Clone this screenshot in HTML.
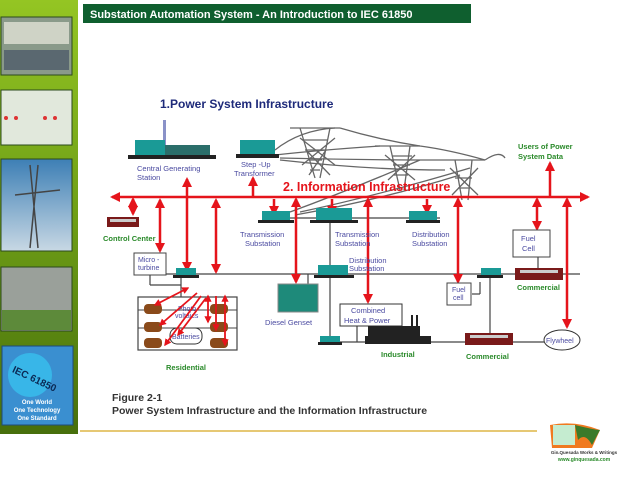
<!DOCTYPE html>
<html><head><meta charset="utf-8"><style>
html,body{margin:0;padding:0;width:638px;height:478px;overflow:hidden;background:#fff;font-family:"Liberation Sans",sans-serif}
</style></head><body>
<svg width="638" height="478" viewBox="0 0 638 478" xmlns="http://www.w3.org/2000/svg" font-family="Liberation Sans, sans-serif">
<defs>
<linearGradient id="sb" x1="0" y1="0" x2="0" y2="1"><stop offset="0" stop-color="#94c523"/><stop offset="0.5" stop-color="#6e9e16"/><stop offset="1" stop-color="#476f0c"/></linearGradient>
<linearGradient id="sky" x1="0" y1="0" x2="0" y2="1"><stop offset="0" stop-color="#3d7fb5"/><stop offset="1" stop-color="#c8d8e4"/></linearGradient>
<marker id="ar" viewBox="0 0 10 10" refX="8" refY="5" markerWidth="4" markerHeight="4" orient="auto-start-reverse"><path d="M0,0L10,5L0,10z" fill="#e5141b"/></marker>
</defs>
<!-- sidebar -->
<rect x="0" y="0" width="78" height="434" fill="url(#sb)"/>
<rect x="1" y="17" width="71" height="58" fill="#8a9a8a" stroke="#2c4a1c"/>
<rect x="4" y="22" width="65" height="22" fill="#cfd3c6"/><rect x="4" y="50" width="65" height="20" fill="#5a6870"/>
<rect x="1" y="90" width="71" height="55" fill="#e1e8dc" stroke="#2c4a1c"/>
<circle cx="6" cy="118" r="2" fill="#d33"/><circle cx="16" cy="118" r="2" fill="#d33"/><circle cx="45" cy="118" r="2" fill="#d33"/><circle cx="55" cy="118" r="2" fill="#d33"/>
<rect x="1" y="159" width="71" height="92" fill="url(#sky)" stroke="#2c4a1c"/>
<path d="M30,165L38,248M38,165L30,248M15,195L60,190" stroke="#444" stroke-width="1.5"/>
<rect x="1" y="267" width="71" height="64" fill="#9aa09a" stroke="#2c4a1c"/>
<rect x="2" y="310" width="69" height="20" fill="#5d8a3a"/>
<rect x="2" y="346" width="71" height="79" fill="#3a8fd0" stroke="#1e4a7a"/>
<circle cx="30" cy="375" r="22" fill="#38b6e8"/>
<text x="12" y="380" font-size="10" font-weight="bold" fill="#0b2a55" transform="rotate(25 30 375)">IEC 61850</text>
<text x="37" y="404" font-size="6" fill="#fff" text-anchor="middle" font-weight="bold">One World</text>
<text x="37" y="412" font-size="6" fill="#fff" text-anchor="middle" font-weight="bold">One Technology</text>
<text x="37" y="420" font-size="6" fill="#fff" text-anchor="middle" font-weight="bold">One Standard</text>
<!-- title bar -->
<rect x="83" y="4" width="388" height="19" fill="#0f5f2f"/>
<text x="90" y="18" font-size="11" font-weight="bold" fill="#fff">Substation Automation System - An Introduction to IEC 61850</text>
<!-- bottom line -->
<line x1="80" y1="431" x2="537" y2="431" stroke="#d8a820" stroke-width="1.2"/>
<!-- logo -->
<path d="M550,425 Q575,420 600,430 L592,448 L552,448 Z" fill="#f07a20"/>
<rect x="553" y="425" width="22" height="20" fill="#c5ecd0"/>
<path d="M575,425 Q595,430 600,430 L592,445 Q585,432 578,440Z" fill="#3b7a2a"/>
<text x="584" y="454" font-size="4.5" fill="#333" text-anchor="middle" font-weight="bold">Gin.Quesada Works &amp; Writings</text>
<text x="584" y="461" font-size="5" fill="#2a8a2a" text-anchor="middle" font-weight="bold">www.ginquesada.com</text>
<!-- diagram -->
<text x="160" y="108" font-size="12" font-weight="bold" fill="#1e2a7a">1.Power System Infrastructure</text>
<!-- towers -->
<g stroke="#666" stroke-width="1.3" fill="none">
<path d="M290,128L340,128M300,128L315,178M330,128L320,178M305,150L325,150M300,138L335,165M335,138L302,165M303,140L328,140M308,160L322,160M310,170L320,170M306,150L330,175M326,150L309,175"/>
<path d="M375,146L420,146M390,146L400,190M410,146L404,190M393,165L410,165M385,155L415,180M415,155L388,180M394,175L408,175M392,156L412,156"/>
<path d="M440,160L485,160M455,160L462,200M472,160L468,200M455,178L472,178M450,168L478,195M478,168L452,195M458,188L470,188"/>
<path d="M275,150Q300,130 335,128M275,155Q320,150 380,146M280,158Q360,160 440,160M280,160Q370,170 445,170M340,128Q380,140 420,146M420,146Q450,150 485,160M485,160Q500,150 505,158M295,215Q380,200 460,175M290,212Q350,190 420,160M300,212Q380,195 470,168"/>
</g>
<!-- central generating -->
<rect x="163" y="120" width="3" height="25" fill="#8a92c8"/>
<rect x="135" y="140" width="30" height="15" fill="#1a9a96"/><rect x="165" y="145" width="45" height="10" fill="#2b6e6a"/>
<rect x="128" y="155" width="88" height="4" fill="#222"/>
<rect x="240" y="140" width="35" height="14" fill="#1a9a96"/><rect x="236" y="154" width="43" height="4" fill="#222"/>
<text x="137" y="171" font-size="7.5" fill="#4a4aa0">Central Generating</text><text x="137" y="180" font-size="7.5" fill="#4a4aa0">Station</text>
<text x="241" y="167" font-size="7.5" fill="#4a4aa0">Step -Up</text><text x="234" y="176" font-size="7.5" fill="#4a4aa0">Transformer</text>
<text x="518" y="149" font-size="7.5" font-weight="bold" fill="#2a8a2a">Users of Power</text><text x="518" y="159" font-size="7.5" font-weight="bold" fill="#2a8a2a">System Data</text>
<!-- gray lines -->
<g stroke="#444" stroke-width="1.2" fill="none">
<line x1="270" y1="218" x2="440" y2="218"/>
<line x1="140" y1="274" x2="580" y2="274"/>
<line x1="320" y1="342" x2="545" y2="342"/>
<line x1="330" y1="218" x2="330" y2="342"/>
<line x1="181" y1="274" x2="181" y2="297"/>
<line x1="150" y1="275" x2="150" y2="285"/><line x1="150" y1="285" x2="181" y2="285"/>
<line x1="308" y1="274" x2="308" y2="295"/>
<line x1="490" y1="274" x2="490" y2="342"/>
<line x1="480" y1="282" x2="480" y2="294"/><line x1="472" y1="294" x2="480" y2="294"/>
<line x1="538" y1="257" x2="538" y2="270"/>
<line x1="357" y1="326" x2="357" y2="342"/>
</g>
<!-- residential box (behind arrows) -->
<rect x="138" y="297" width="99" height="53" fill="#fff" stroke="#444" stroke-width="1.2"/>
<g stroke="#444" stroke-width="1"><line x1="138" y1="310" x2="237" y2="310"/><line x1="138" y1="328" x2="237" y2="328"/></g>
<g fill="#8a4a1a"><rect x="144" y="304" width="18" height="10" rx="4"/><rect x="144" y="322" width="18" height="10" rx="4"/><rect x="144" y="338" width="18" height="10" rx="4"/><rect x="210" y="304" width="18" height="10" rx="4"/><rect x="210" y="322" width="18" height="10" rx="4"/><rect x="210" y="338" width="18" height="10" rx="4"/></g>
<text x="178" y="311" font-size="7" fill="#4a4aa0">Photo</text><text x="175" y="318" font-size="7" fill="#4a4aa0">voltaics</text>
<rect x="170" y="328" width="32" height="16" rx="7" fill="#fff" stroke="#333"/>
<text x="172" y="339" font-size="7" fill="#4a4aa0">Batteries</text>
<text x="166" y="370" font-size="7.5" font-weight="bold" fill="#2a8a2a">Residential</text>
<!-- red bus -->
<g stroke="#e5141b" stroke-width="2.5" fill="none">
<line x1="112" y1="197" x2="588" y2="197" marker-start="url(#ar)" marker-end="url(#ar)"/>
<line x1="133" y1="199" x2="133" y2="214" marker-end="url(#ar)" marker-start="url(#ar)"/>
<line x1="160" y1="200" x2="160" y2="251" marker-end="url(#ar)" marker-start="url(#ar)"/>
<line x1="187" y1="179" x2="187" y2="270" marker-start="url(#ar)" marker-end="url(#ar)"/>
<line x1="216" y1="200" x2="216" y2="272" marker-start="url(#ar)" marker-end="url(#ar)"/>
<line x1="253" y1="178" x2="253" y2="197" marker-start="url(#ar)"/>
<line x1="274" y1="199" x2="274" y2="214" marker-end="url(#ar)"/>
<line x1="296" y1="199" x2="296" y2="282" marker-end="url(#ar)" marker-start="url(#ar)"/>
<line x1="332" y1="199" x2="332" y2="214" marker-end="url(#ar)"/>
<line x1="368" y1="199" x2="368" y2="302" marker-end="url(#ar)" marker-start="url(#ar)"/>
<line x1="427" y1="199" x2="427" y2="213" marker-end="url(#ar)"/>
<line x1="458" y1="199" x2="458" y2="282" marker-end="url(#ar)" marker-start="url(#ar)"/>
<line x1="537" y1="199" x2="537" y2="229" marker-end="url(#ar)" marker-start="url(#ar)"/>
<line x1="550" y1="163" x2="550" y2="196" marker-start="url(#ar)"/>
<line x1="567" y1="199" x2="567" y2="327" marker-end="url(#ar)" marker-start="url(#ar)"/>
<line x1="188" y1="288" x2="155" y2="305" marker-end="url(#ar)" marker-start="url(#ar)" stroke-width="1.8"/>
<line x1="197" y1="293" x2="160" y2="325" marker-end="url(#ar)" stroke-width="1.8"/>
<line x1="201" y1="296" x2="165" y2="345" marker-end="url(#ar)" stroke-width="1.8"/>
<line x1="206" y1="298" x2="178" y2="335" marker-end="url(#ar)" stroke-width="1.8"/>
<line x1="208" y1="296" x2="208" y2="322" marker-end="url(#ar)" marker-start="url(#ar)" stroke-width="1.8"/>
<line x1="216" y1="296" x2="216" y2="330" marker-end="url(#ar)" stroke-width="1.8"/>
<line x1="225" y1="296" x2="225" y2="345" marker-end="url(#ar)" marker-start="url(#ar)" stroke-width="1.8"/>
</g>
<text x="283" y="191" font-size="12.5" font-weight="bold" fill="#e5141b">2. Information Infrastructure</text>
<!-- control center -->
<rect x="107" y="217" width="32" height="10" fill="#7a1a1a"/><rect x="110" y="219" width="26" height="3" fill="#ccc"/>
<text x="103" y="241" font-size="7.5" font-weight="bold" fill="#2a8a2a">Control Center</text>
<!-- substations -->
<rect x="262" y="211" width="28" height="9" fill="#1a9a96"/><rect x="258" y="220" width="36" height="3" fill="#222"/>
<text x="240" y="237" font-size="7.5" fill="#4a4aa0">Transmission</text><text x="245" y="246" font-size="7.5" fill="#4a4aa0">Substation</text>
<rect x="316" y="208" width="36" height="12" fill="#1a9a96"/><rect x="310" y="220" width="48" height="3" fill="#222"/>
<text x="335" y="237" font-size="7.5" fill="#4a4aa0">Transmission</text><text x="335" y="246" font-size="7.5" fill="#4a4aa0">Substation</text>
<rect x="409" y="211" width="28" height="9" fill="#1a9a96"/><rect x="406" y="220" width="34" height="3" fill="#222"/>
<text x="412" y="237" font-size="7.5" fill="#4a4aa0">Distribution</text><text x="412" y="246" font-size="7.5" fill="#4a4aa0">Substation</text>
<text x="349" y="263" font-size="7.5" fill="#4a4aa0">Distribution</text><text x="349" y="271" font-size="7.5" fill="#4a4aa0">Substation</text>
<rect x="318" y="265" width="30" height="10" fill="#1a9a96"/><rect x="314" y="275" width="40" height="3" fill="#222"/>
<!-- micro turbine -->
<rect x="134" y="253" width="32" height="22" fill="#fff" stroke="#444"/>
<text x="138" y="262" font-size="7" fill="#4a4aa0">Micro -</text><text x="138" y="270" font-size="7" fill="#4a4aa0">turbine</text>
<rect x="176" y="268" width="20" height="7" fill="#1a9a96"/><rect x="173" y="275" width="26" height="3" fill="#222"/>
<!-- diesel -->
<rect x="278" y="284" width="40" height="28" fill="#1e8a7a" stroke="#888"/>
<text x="265" y="325" font-size="7.5" fill="#4a4aa0">Diesel Genset</text>
<!-- CHP & industrial -->
<rect x="340" y="304" width="62" height="22" fill="#fff" stroke="#333"/>
<text x="351" y="313" font-size="7.5" fill="#4a4aa0">Combined</text><text x="344" y="323" font-size="7.5" fill="#4a4aa0">Heat &amp; Power</text>
<rect x="411" y="315" width="2" height="12" fill="#222"/><rect x="416" y="315" width="2" height="12" fill="#222"/>
<rect x="368" y="326" width="52" height="10" fill="#222"/><rect x="365" y="336" width="66" height="8" fill="#222"/>
<rect x="320" y="336" width="20" height="6" fill="#1a9a96"/><rect x="318" y="342" width="24" height="3" fill="#222"/>
<text x="381" y="357" font-size="7.5" font-weight="bold" fill="#2a8a2a">Industrial</text>
<!-- fuel cells & commercial -->
<rect x="447" y="283" width="24" height="22" fill="#fff" stroke="#444"/>
<text x="452" y="292" font-size="7" fill="#4a4aa0">Fuel</text><text x="453" y="300" font-size="7" fill="#4a4aa0">cell</text>
<rect x="481" y="268" width="20" height="7" fill="#1a9a96"/><rect x="477" y="275" width="26" height="3" fill="#222"/>
<rect x="513" y="230" width="37" height="27" fill="#fff" stroke="#444"/>
<text x="521" y="241" font-size="7.5" fill="#4a4aa0">Fuel</text><text x="522" y="251" font-size="7.5" fill="#4a4aa0">Cell</text>
<rect x="515" y="268" width="48" height="12" fill="#7a1a1a"/><rect x="520" y="270" width="38" height="3" fill="#ccc"/>
<text x="517" y="290" font-size="7.5" font-weight="bold" fill="#2a8a2a">Commercial</text>
<rect x="465" y="333" width="48" height="12" fill="#7a1a1a"/><rect x="470" y="335" width="38" height="3" fill="#ccc"/>
<text x="466" y="359" font-size="7.5" font-weight="bold" fill="#2a8a2a">Commercial</text>
<ellipse cx="562" cy="340" rx="18" ry="10" fill="#fff" stroke="#333"/>
<text x="546" y="343" font-size="7" fill="#4a4aa0">Flywheel</text>
<!-- caption -->
<text x="112" y="401" font-size="10.5" font-weight="bold" fill="#333">Figure 2-1</text>
<text x="112" y="414" font-size="10.5" font-weight="bold" fill="#333">Power System Infrastructure and the Information Infrastructure</text>
</svg>
</body></html>
